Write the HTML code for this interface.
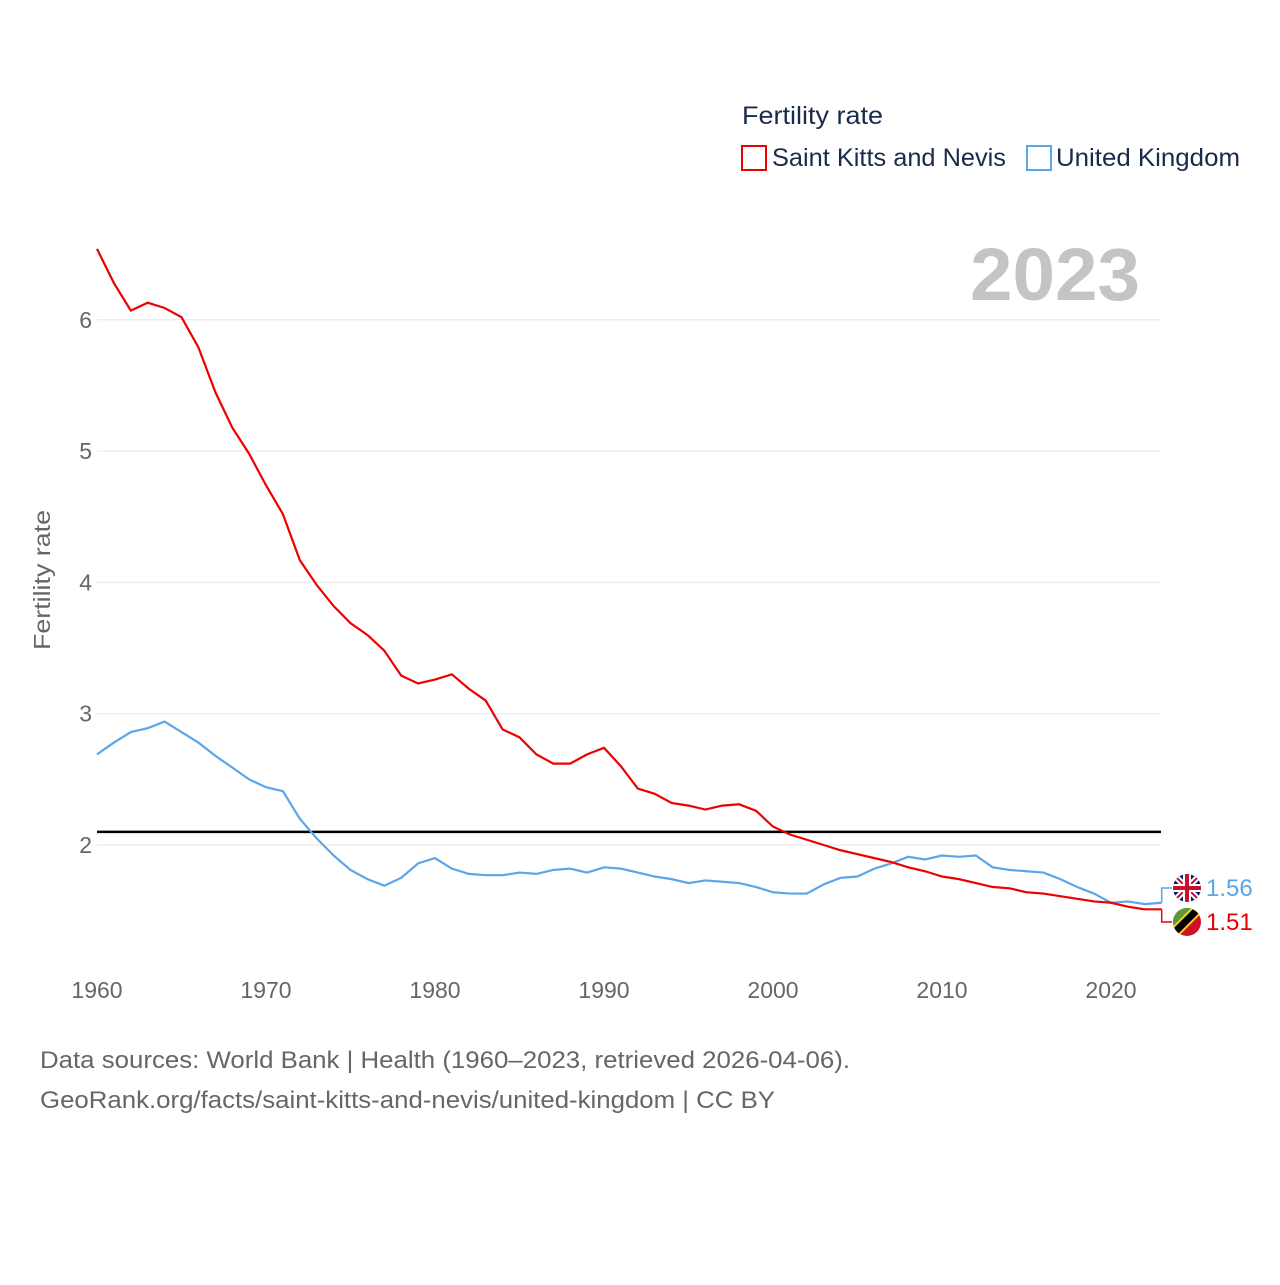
<!DOCTYPE html>
<html><head><meta charset="utf-8"><style>
body{margin:0;background:#fff;font-family:"Liberation Sans",sans-serif}
</style></head><body>
<svg width="1280" height="1280" xmlns="http://www.w3.org/2000/svg" id="chart">
<text x="742" y="124" font-size="25" fill="#1a2a4a" textLength="141" lengthAdjust="spacingAndGlyphs">Fertility rate</text>
<g><rect x="742" y="146" width="24" height="24" fill="none" stroke="#e00" stroke-width="2"/><text x="772" y="166" font-size="25" fill="#1a2a4a" textLength="234" lengthAdjust="spacingAndGlyphs">Saint Kitts and Nevis</text></g>
<g><rect x="1027" y="146" width="24" height="24" fill="none" stroke="#5aa6e8" stroke-width="2"/><text x="1056" y="166" font-size="25" fill="#1a2a4a" textLength="184" lengthAdjust="spacingAndGlyphs">United Kingdom</text></g>
<text x="970" y="300" font-size="74" font-weight="bold" fill="#c4c4c4" textLength="170" lengthAdjust="spacingAndGlyphs">2023</text>
<g id="grid"></g>
<g id="yt"></g>
<g id="xt"></g>
<text transform="translate(50,580) rotate(-90)" font-size="23" fill="#666" text-anchor="middle" textLength="140" lengthAdjust="spacingAndGlyphs">Fertility rate</text>
<g id="series"></g>
<text x="40" y="1068" font-size="24" fill="#666" textLength="810" lengthAdjust="spacingAndGlyphs">Data sources: World Bank | Health (1960–2023, retrieved 2026-04-06).</text>
<text x="40" y="1108" font-size="24" fill="#666" textLength="735" lengthAdjust="spacingAndGlyphs">GeoRank.org/facts/saint-kitts-and-nevis/united-kingdom | CC BY</text>
</svg>
<script>
const years=[];for(let y=1960;y<=2023;y++)years.push(y);
const skn=[6.54,6.28,6.07,6.13,6.09,6.02,5.79,5.45,5.18,4.98,4.74,4.52,4.17,3.98,3.82,3.69,3.60,3.48,3.29,3.23,3.26,3.30,3.19,3.10,2.88,2.82,2.69,2.62,2.62,2.69,2.74,2.60,2.43,2.39,2.32,2.30,2.27,2.30,2.31,2.26,2.14,2.08,2.04,2.00,1.96,1.93,1.90,1.87,1.83,1.80,1.76,1.74,1.71,1.68,1.67,1.64,1.63,1.61,1.59,1.57,1.56,1.53,1.51,1.51];
const uk=[2.69,2.78,2.86,2.89,2.94,2.86,2.78,2.68,2.59,2.50,2.44,2.41,2.20,2.05,1.92,1.81,1.74,1.69,1.75,1.86,1.90,1.82,1.78,1.77,1.77,1.79,1.78,1.81,1.82,1.79,1.83,1.82,1.79,1.76,1.74,1.71,1.73,1.72,1.71,1.68,1.64,1.63,1.63,1.70,1.75,1.76,1.82,1.86,1.91,1.89,1.92,1.91,1.92,1.83,1.81,1.80,1.79,1.74,1.68,1.63,1.56,1.57,1.55,1.56];
const yTicks=[2,3,4,5,6];
const xTicks=[1960,1970,1980,1990,2000,2010,2020];
const refValue=2.1;
const NS="http://www.w3.org/2000/svg";
const X=y=>97+(y-1960)*16.9;
const Y=v=>845-(v-2)*131.3;
function mk(tag,attrs,parent){const e=document.createElementNS(NS,tag);for(const k in attrs)e.setAttribute(k,attrs[k]);parent.appendChild(e);return e;}
const grid=document.getElementById('grid'),yt=document.getElementById('yt'),xt=document.getElementById('xt'),ser=document.getElementById('series');
yTicks.forEach(v=>{const l=mk('line',{x1:97,x2:1161,y1:Y(v),y2:Y(v),stroke:'#e6e6e6','stroke-width':1},grid);


const t=mk('text',{x:92,y:Y(v)+8,'font-size':23,fill:'#666','text-anchor':'end'},yt);t.textContent=v;

});
xTicks.forEach(v=>{const t=mk('text',{x:X(v),y:998,'font-size':23,fill:'#666','text-anchor':'middle'},xt);t.textContent=v;

});
const ref=mk('line',{x1:97,x2:1161,y1:Y(refValue),y2:Y(refValue),stroke:'#000','stroke-width':2.5},ser);


function line(d,c,name){const p=mk('polyline',{points:d.map((v,i)=>X(years[i])+','+Y(v)).join(' '),fill:'none',stroke:c,'stroke-width':2.2},ser);

}
line(uk,'#5aa6e8','uk-line');line(skn,'#e00','skn-line');
const lastX=X(2023);
const uy=Y(uk[uk.length-1]), ly1=888, ly2=922;
const c1=mk('polyline',{points:`${lastX},${uy} ${lastX},${ly1} 1172,${ly1}`,fill:'none',stroke:'#5aa6e8','stroke-width':1.5},ser);


const c2=mk('polyline',{points:`${lastX},${Y(skn[skn.length-1])} ${lastX},${ly2} 1172,${ly2}`,fill:'none',stroke:'#e00','stroke-width':1.5},ser);


const fu=mk('g',{},ser);


fu.innerHTML=`<clipPath id="cu"><circle cx="1187" cy="${ly1}" r="14"/></clipPath><g clip-path="url(#cu)"><rect x="1172" y="${ly1-15}" width="30" height="30" fill="#012169"/><path d="M1172 ${ly1-15}L1202 ${ly1+15}M1202 ${ly1-15}L1172 ${ly1+15}" stroke="#fff" stroke-width="6"/><path d="M1172 ${ly1-15}L1202 ${ly1+15}M1202 ${ly1-15}L1172 ${ly1+15}" stroke="#c8102e" stroke-width="2"/><path d="M1187 ${ly1-15}V${ly1+15}M1172 ${ly1}H1202" stroke="#fff" stroke-width="8"/><path d="M1187 ${ly1-15}V${ly1+15}M1172 ${ly1}H1202" stroke="#c8102e" stroke-width="4"/></g>`;
const fs=mk('g',{},ser);


fs.innerHTML=`<clipPath id="cs"><circle cx="1187" cy="${ly2}" r="14"/></clipPath><g clip-path="url(#cs)"><rect x="1172" y="${ly2-15}" width="30" height="30" fill="#ce1126"/><path d="M1172 ${ly2-15}H1202L1172 ${ly2+15}Z" fill="#5a9a3a"/><path d="M1200 ${ly2-15}L1172 ${ly2+13}" stroke="#fcd116" stroke-width="11"/><path d="M1200 ${ly2-15}L1172 ${ly2+13}" stroke="#000" stroke-width="7"/></g>`;
const t1=mk('text',{x:1206,y:ly1+8,'font-size':24,fill:'#5aa6e8'},ser);t1.textContent=uk[uk.length-1].toFixed(2);


const t2=mk('text',{x:1206,y:ly2+8,'font-size':24,fill:'#e00'},ser);t2.textContent=skn[skn.length-1].toFixed(2);


</script>
</body></html>
